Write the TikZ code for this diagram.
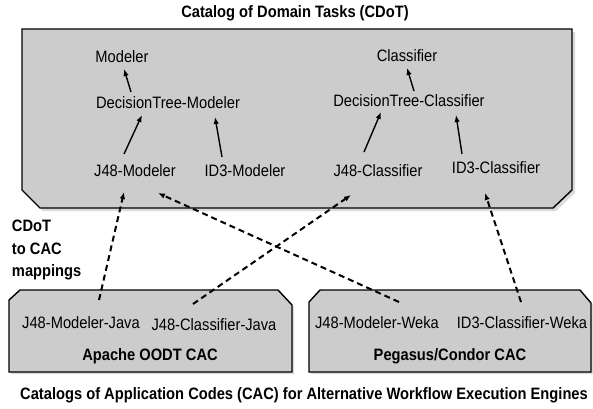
\documentclass[tikz,border=0pt]{standalone}
\usepackage{fontspec}
\setmainfont{Liberation Sans}[FakeStretch=0.89]
\usetikzlibrary{arrows.meta,calc}
\definecolor{boxgray}{RGB}{204,204,204}
\begin{document}
\begin{tikzpicture}[x=1pt,y=-1pt,
  task/.style={inner sep=0pt, outer sep=0pt, text height=11.8pt, text depth=0pt, font=\fontsize{16.5}{18}\selectfont},
  heading/.style={inner sep=0pt, outer sep=0pt, text height=11.8pt, text depth=0pt, font=\bfseries\fontsize{16.5}{18}\selectfont},
  isa/.style={-{Latex[length=7pt,width=5.5pt]}, line width=1.4pt},
  mapping/.style={-{Latex[length=7pt,width=5.5pt]}, line width=2pt, dash pattern=on 6pt off 4pt},
  catalog/.style={fill=boxgray, draw=black, line width=1.4pt, line join=miter},
  shade/.style={fill=black!14, draw=none}]
\useasboundingbox (0,0) rectangle (593,408);

% catalog boxes (with faint shadows)
\fill[shade] (25,32) -- (575,32) -- (575,193) -- (556,211) -- (43,211) -- (25,193) -- cycle;
\draw[catalog] (22,29) -- (572,29) -- (572,190) -- (553,208) -- (40,208) -- (22,190) -- cycle;
\fill[shade] (11,302) -- (22,292) -- (280,292) -- (294,307) -- (294,374) -- (11,374) -- cycle;
\draw[catalog] (9,300) -- (20,290) -- (278,290) -- (292,305) -- (292,372) -- (9,372) -- cycle;
\fill[shade] (311,304) -- (322,292) -- (582,292) -- (593,305) -- (593,374) -- (311,374) -- cycle;
\draw[catalog] (309,302) -- (320,290) -- (580,290) -- (591,303) -- (591,372) -- (309,372) -- cycle;

% headings
\node[heading] (cdot) at (295,12) {Catalog of Domain Tasks (CDoT)};
\node[heading] (cac) at (304,394) {Catalogs of Application Codes (CAC) for Alternative Workflow Execution Engines};
\node[heading] (oodt) at (150,355) {Apache OODT CAC};
\node[heading] (pegasus) at (450,355) {Pegasus/Condor CAC};
\node[inner sep=0pt, outer sep=0pt, anchor=north west, align=left, font=\bfseries\fontsize{16.5}{22.5}\selectfont] (maplabel) at (12,220) {CDoT\\to CAC\\mappings};

% domain tasks
\node[task] (modeler) at (122,57) {Modeler};
\node[task] (dtm) at (168,103) {DecisionTree-Modeler};
\node[task] (j48m) at (135,171) {J48-Modeler};
\node[task] (id3m) at (245,171) {ID3-Modeler};
\node[task] (classifier) at (407,56) {Classifier};
\node[task] (dtc) at (409,101) {DecisionTree-Classifier};
\node[task] (j48c) at (378,171) {J48-Classifier};
\node[task] (id3c) at (496,168) {ID3-Classifier};

% application codes
\node[task] (j48mjava) at (81,323) {J48-Modeler-Java};
\node[task] (j48cjava) at (214,325) {J48-Classifier-Java};
\node[task] (j48mweka) at (377,323) {J48-Modeler-Weka};
\node[task] (id3cweka) at (522,323) {ID3-Classifier-Weka};

% is-a arrows
\draw[isa] ([shift={(-37,-11)}]dtm.center) -- ([shift={(2,12)}]modeler.center);
\draw[isa] ([shift={(-11,-17)}]j48m.center) -- ([shift={(-26,12)}]dtm.center);
\draw[isa] ([shift={(-23,-14)}]id3m.center) -- ([shift={(47,14)}]dtm.center);
\draw[isa] ([shift={(5,-10)}]dtc.center) -- ([shift={(0,12)}]classifier.center);
\draw[isa] ([shift={(-14,-19)}]j48c.center) -- ([shift={(-28,11)}]dtc.center);
\draw[isa] ([shift={(-34,-14)}]id3c.center) -- ([shift={(47,14)}]dtc.center);

% mappings
\draw[mapping] ([shift={(18,-23)}]j48mjava.center) -- ([shift={(-11,21)}]j48m.center);
\draw[mapping] ([shift={(22,-21)}]j48mweka.center) -- ([shift={(23,22)}]j48m.center);
\draw[mapping] ([shift={(-21,-21)}]j48cjava.center) -- ([shift={(-27,24)}]j48c.center);
\draw[mapping] ([shift={(-1,-21)}]id3cweka.center) -- ([shift={(-11,25)}]id3c.center);
\end{tikzpicture}
\end{document}
